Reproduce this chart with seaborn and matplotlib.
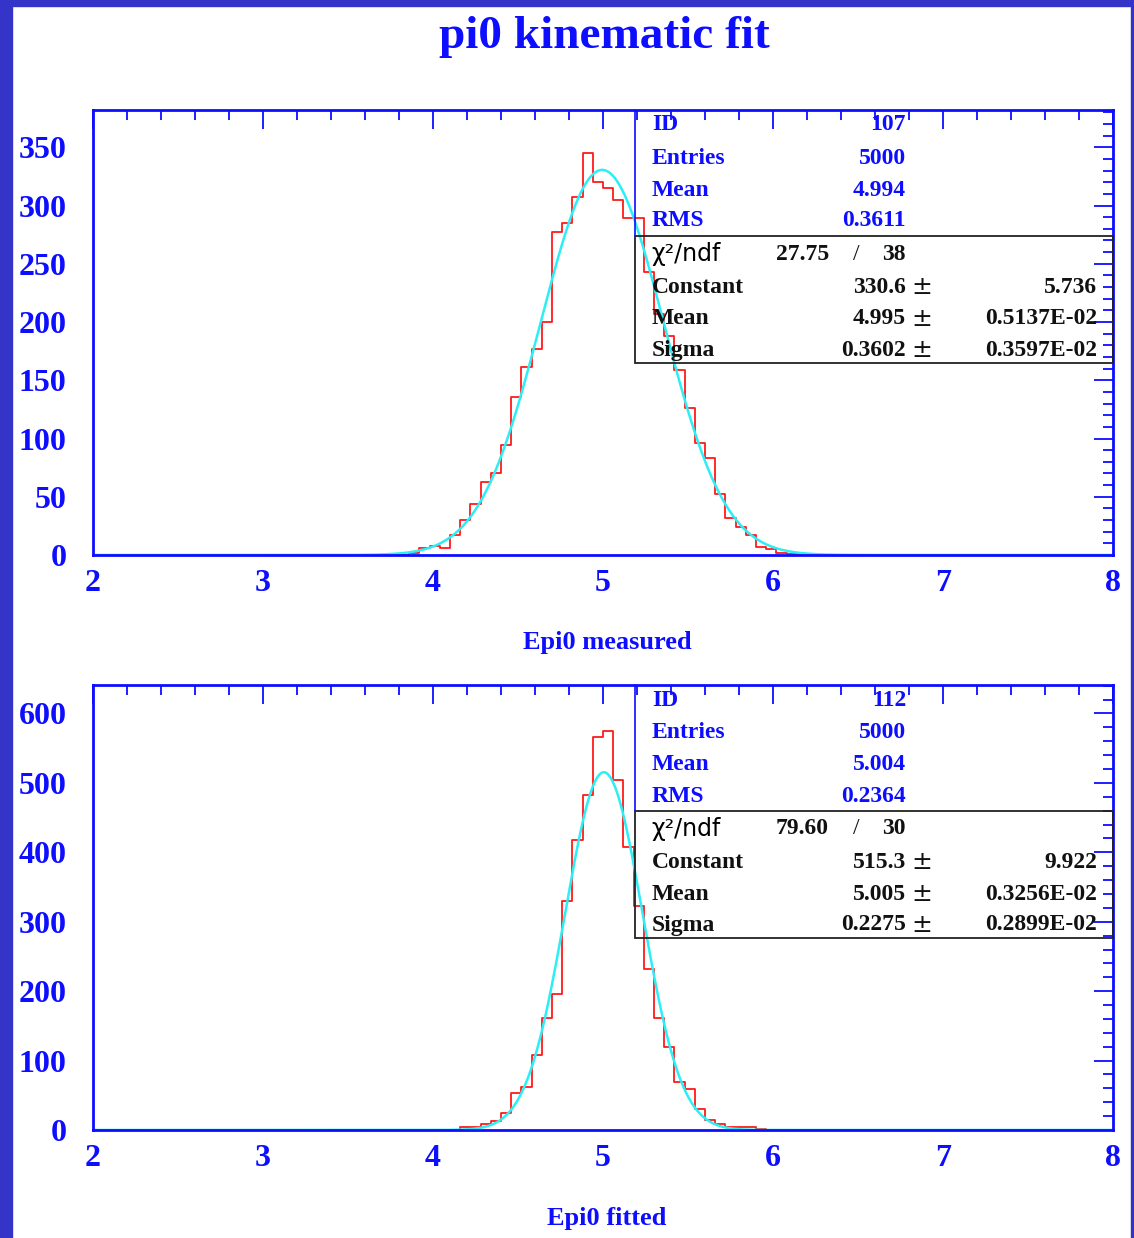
import numpy as np
import pandas as pd
import matplotlib
matplotlib.use("Agg")
import matplotlib.pyplot as plt
import seaborn as sns
from matplotlib.ticker import MultipleLocator
from matplotlib.patches import Rectangle
from matplotlib.lines import Line2D

# ---------------------------------------------------------------- data
# 100 bins of width 0.06 between 2 and 8
x_min, x_max, n_bins = 2.0, 8.0, 100

# Epi0 measured (histogram 107): counts of the non-empty bins
measured_first_bin = 31
measured_counts = [2, 6, 8, 6, 17, 30, 44, 63, 70, 94,
                   136, 161, 177, 200, 277, 285, 307, 345, 320, 315,
                   305, 289, 289, 243, 207, 188, 159, 126, 96, 83,
                   52, 32, 24, 17, 7, 5, 2, 1, 1]

# Epi0 fitted (histogram 112)
fitted_first_bin = 36
fitted_counts = [4, 5, 8, 13, 25, 53, 62, 108, 162, 196,
                 330, 418, 483, 566, 575, 504, 407, 322, 232, 162,
                 120, 69, 59, 30, 14, 9, 5, 5, 4, 1]

# statistics and gaussian fit results
measured_stats = ["107", "5000", "4.994", "0.3611"]
measured_chi2 = ["27.75", "38"]
measured_fit = [330.6, 4.995, 0.3602]
measured_fit_err = ["5.736", "0.5137E-02", "0.3597E-02"]

fitted_stats = ["112", "5000", "5.004", "0.2364"]
fitted_chi2 = ["79.60", "30"]
fitted_fit = [515.3, 5.005, 0.2275]
fitted_fit_err = ["9.922", "0.3256E-02", "0.2899E-02"]

stat_labels = ["ID", "Entries", "Mean", "RMS"]
fit_labels = ["Constant", "Mean", "Sigma"]
fit_fmt = ["{:.1f}", "{:.3f}", "{:.4f}"]

# ---------------------------------------------------------------- style
sns.set_theme(style="white")
plt.rcParams["font.family"] = ["Liberation Serif", "DejaVu Serif"]
plt.rcParams["font.weight"] = "bold"

BLUE = "#0d0dff"
FRAME = "#3434c8"
INK = "#111111"
W, H = 1134, 1238
STAT_FS = 17

fig = plt.figure(figsize=(W / 100, H / 100), dpi=100)
fig.patch.set_facecolor("white")


def fx(px):
    return px / W


def fy(py):
    return 1 - py / H


# blue frame around the page
for (x0, y0, w, h) in [(0, 0, 12, H), (0, 0, W, 6), (W - 3, 0, 3, H)]:
    fig.patches.append(Rectangle((fx(x0), fy(y0 + h)), w / W, h / H,
                                 transform=fig.transFigure, color=FRAME,
                                 zorder=0))

fig.text(fx(604), fy(37), "pi0 kinematic fit", ha="center", va="center",
         fontsize=34, color=BLUE, fontweight="bold")

edges = np.linspace(x_min, x_max, n_bins + 1)
centers = 0.5 * (edges[:-1] + edges[1:])


def panel(top_px, ymax, y_major, y_minor, first_bin, counts, stats,
          chi2, fit, fit_err, xlabel):
    left, right, bottom_px = 93, 1113, top_px + 445
    ax = fig.add_axes([fx(left), fy(bottom_px), (right - left) / W, 445 / H])

    full = np.zeros(n_bins)
    full[first_bin:first_bin + len(counts)] = counts
    df = pd.DataFrame({"E": centers, "n": full})
    sns.histplot(data=df, x="E", weights="n", bins=n_bins,
                 binrange=(x_min, x_max), element="step",
                 fill=False, color="#ff1a1a", linewidth=1.3, ax=ax)

    const, mu, sig = fit
    xs = np.linspace(x_min, x_max, 1200)
    ys = const * np.exp(-0.5 * ((xs - mu) / sig) ** 2)
    sns.lineplot(x=xs, y=ys, color="#2ceef5", linewidth=1.8, ax=ax,
                 legend=False)

    ax.set_xlim(x_min, x_max)
    ax.set_ylim(0, ymax)
    ax.set_xlabel("")
    ax.set_ylabel("")
    ax.xaxis.set_major_locator(MultipleLocator(1))
    ax.xaxis.set_minor_locator(MultipleLocator(0.2))
    ax.yaxis.set_major_locator(MultipleLocator(y_major))
    ax.yaxis.set_minor_locator(MultipleLocator(y_minor))
    ax.tick_params(which="both", direction="in", top=True, right=True,
                   color=BLUE, width=1.3)
    ax.tick_params(which="major", length=14)
    ax.tick_params(which="minor", length=7)
    ax.tick_params(axis="x", pad=10, labelsize=23, labelcolor=BLUE)
    ax.tick_params(axis="y", pad=19, labelsize=23, labelcolor=BLUE)
    for t in ax.get_xticklabels() + ax.get_yticklabels():
        t.set_fontweight("bold")
    for s in ax.spines.values():
        s.set_color(BLUE)
        s.set_linewidth(2.0)
        s.set_visible(True)
    ax.set_facecolor("none")

    fig.text(fx(607), fy(bottom_px + 88), xlabel, ha="center", va="center",
             fontsize=19, color=BLUE, fontweight="bold")

    # statistics box
    box_x = 635
    div_px = top_px + 126
    box_bot = top_px + 253
    fig.lines.append(Line2D([fx(box_x), fx(box_x)], [fy(top_px), fy(div_px)],
                            transform=fig.transFigure, color=BLUE, lw=1.2))
    fig.patches.append(Rectangle((fx(box_x), fy(box_bot)),
                                 (right - box_x) / W, (box_bot - div_px) / H,
                                 transform=fig.transFigure, fill=False,
                                 edgecolor="#222222", lw=1.3))

    rows = [15, 48, 80, 111]
    for lab, val, r in zip(stat_labels, stats, rows):
        fig.text(fx(652), fy(top_px + r), lab, ha="left", va="center",
                 fontsize=STAT_FS, color=BLUE, fontweight="bold")
        fig.text(fx(906), fy(top_px + r), val, ha="right", va="center",
                 fontsize=STAT_FS, color=BLUE, fontweight="bold")

    r = top_px + 144
    fig.text(fx(651), fy(r), "\u03c7\u00b2/ndf", ha="left", va="center",
             fontsize=17, color="black", fontweight="normal",
             family=["DejaVu Sans"])
    fig.text(fx(829), fy(r), chi2[0], ha="right", va="center",
             fontsize=STAT_FS, color=INK, fontweight="bold")
    fig.text(fx(856), fy(r), "/", ha="center", va="center",
             fontsize=STAT_FS, color=INK, fontweight="normal")
    fig.text(fx(906), fy(r), chi2[1], ha="right", va="center",
             fontsize=STAT_FS, color=INK, fontweight="bold")

    for lab, val, fmt, err, rr in zip(fit_labels, fit, fit_fmt, fit_err,
                                      [177, 209, 240]):
        y = fy(top_px + rr)
        fig.text(fx(652), y, lab, ha="left", va="center", fontsize=STAT_FS,
                 color=INK, fontweight="bold")
        fig.text(fx(906), y, fmt.format(val), ha="right", va="center",
                 fontsize=STAT_FS, color=INK, fontweight="bold")
        fig.text(fx(922), y, "\u00b1", ha="center", va="center",
                 fontsize=18, color=INK, fontweight="normal",
                 family=["DejaVu Sans"])
        fig.text(fx(1097), y, err, ha="right", va="center", fontsize=STAT_FS,
                 color=INK, fontweight="bold")
    return ax


panel(110, 382, 50, 10, measured_first_bin, measured_counts, measured_stats,
      measured_chi2, measured_fit, measured_fit_err, "Epi0 measured")
panel(685, 641, 100, 20, fitted_first_bin, fitted_counts, fitted_stats,
      fitted_chi2, fitted_fit, fitted_fit_err, "Epi0 fitted")

fig.savefig("out.png", dpi=100, facecolor="white")
